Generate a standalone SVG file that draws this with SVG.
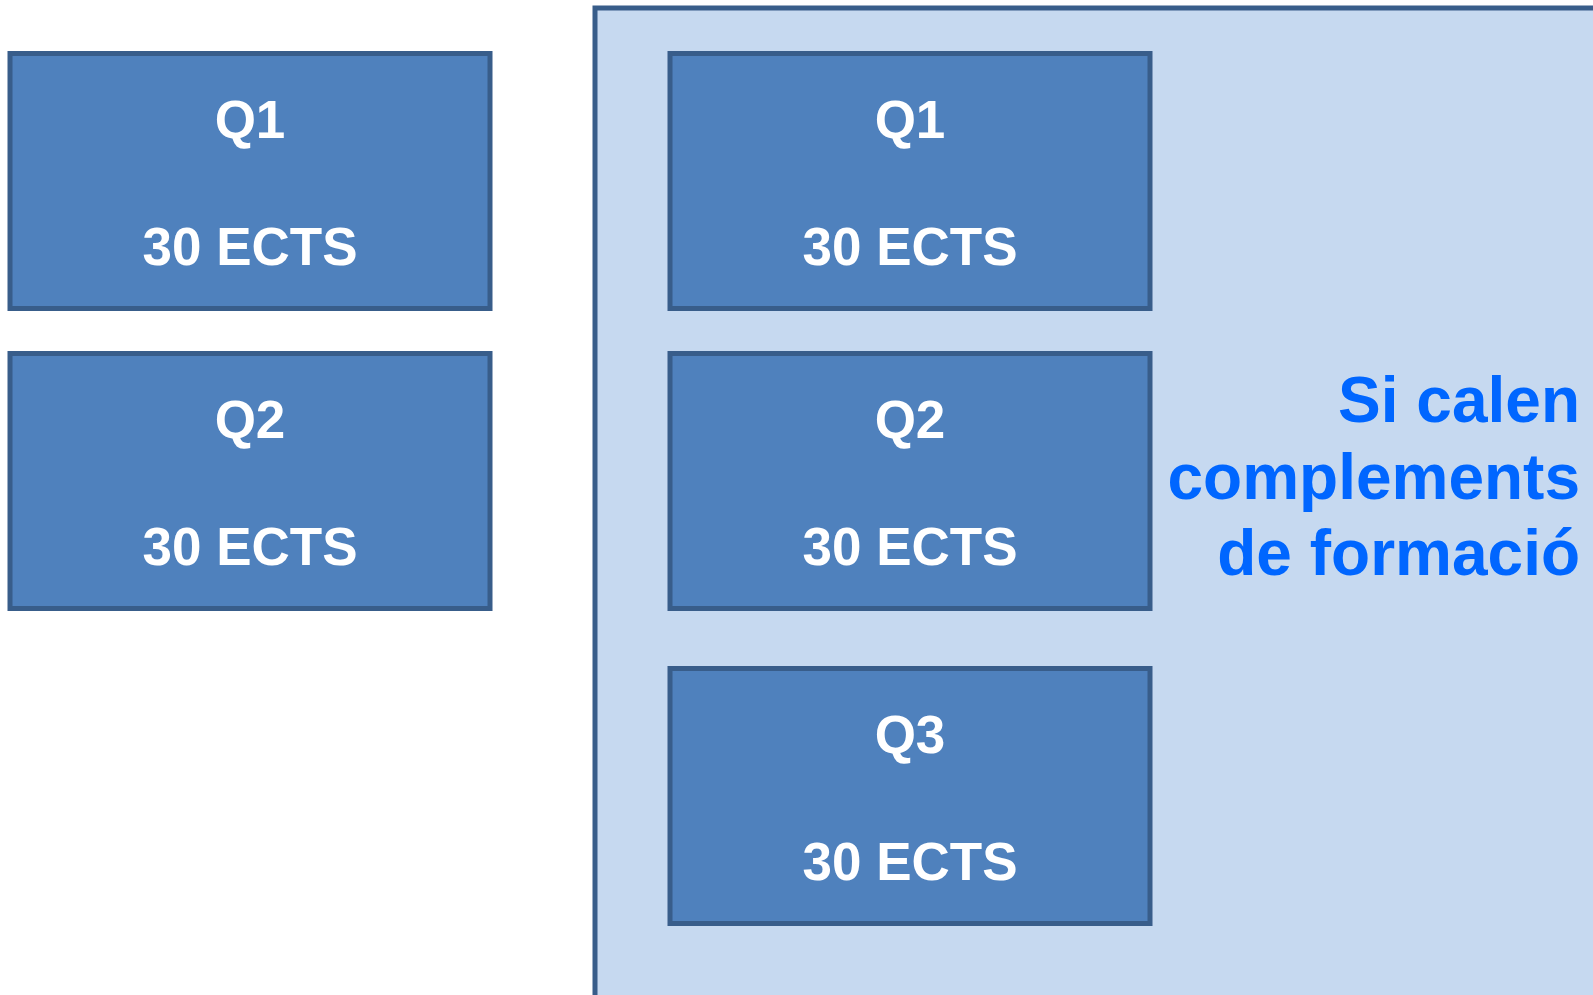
<svg xmlns="http://www.w3.org/2000/svg" width="1593" height="995" viewBox="0 0 1593 995">
<style>
.box{fill:#4f81bd;stroke:#385d8a;stroke-width:5}
.cont{fill:#c6d9f0;stroke:#385d8a;stroke-width:5}
.t{font-family:"Liberation Sans",Arial,sans-serif;font-weight:bold;font-size:53px;fill:#ffffff;text-anchor:middle}
.note{font-family:"Liberation Sans",Arial,sans-serif;font-weight:bold;font-size:64px;fill:#0066ff;text-anchor:end}
</style>
<rect width="1593" height="995" fill="#ffffff"/>
<g id="container">
<rect class="cont" x="595" y="8" width="1010" height="1000"/>
</g>
<g id="left-q1">
<rect class="box" x="10" y="53.5" width="480" height="255"/>
<text class="t" x="250" y="138">Q1</text>
<text class="t" x="250" y="265">30 ECTS</text>
</g>
<g id="left-q2">
<rect class="box" x="10" y="353.5" width="480" height="255"/>
<text class="t" x="250" y="438">Q2</text>
<text class="t" x="250" y="565">30 ECTS</text>
</g>
<g id="right-q1">
<rect class="box" x="670" y="53.5" width="480" height="255"/>
<text class="t" x="910" y="138">Q1</text>
<text class="t" x="910" y="265">30 ECTS</text>
</g>
<g id="right-q2">
<rect class="box" x="670" y="353.5" width="480" height="255"/>
<text class="t" x="910" y="438">Q2</text>
<text class="t" x="910" y="565">30 ECTS</text>
</g>
<g id="right-q3">
<rect class="box" x="670" y="668.5" width="480" height="255"/>
<text class="t" x="910" y="753">Q3</text>
<text class="t" x="910" y="880">30 ECTS</text>
</g>
<g id="note">
<text class="note" x="1580" y="422">Si calen</text>
<text class="note" x="1580" y="499">complements</text>
<text class="note" x="1580" y="575">de formació</text>
</g>
<g id="connectors"></g>
</svg>
